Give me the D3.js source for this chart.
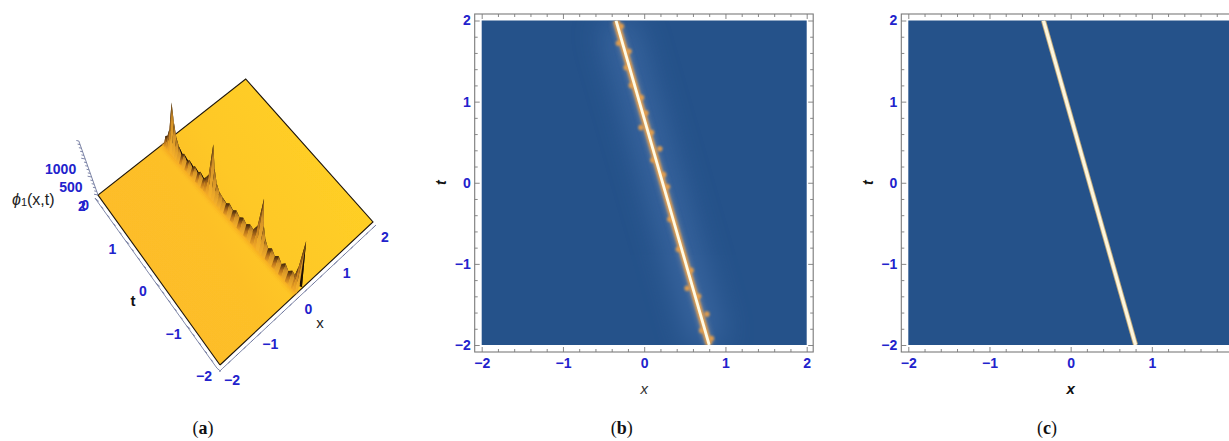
<!DOCTYPE html>
<html><head><meta charset="utf-8">
<script src="https://cdn.jsdelivr.net/npm/d3@7"></script>
<style>
html,body{margin:0;padding:0;background:#fff;overflow:hidden}
svg{display:block}
text{font-family:"Liberation Sans",sans-serif}
</style></head><body>
<svg id="chart" width="1229" height="441"></svg>
<script>
// ---- data ----
const majorTicks = [-2,-1,0,1,2];
const minorTicks = [-1.8,-1.6,-1.4,-1.2,-0.8,-0.6,-0.4,-0.2,0.2,0.4,0.6,0.8,1.2,1.4,1.6,1.8];
const zTicks = [0,500,1000];
const zMinor = [100,200,300,400,600,700,800,900,1100,1200,1300,1400,1500];
const captions = ["a","b","c"];

// panel (a): ridge height along t, with the ridge position at both ends
const ridgeEndsT = [2,-2];
const ridgeEndsX = [-0.2,0.05];
const ridgeT = [2.0,1.96,1.9,1.84,1.78,1.72,1.65,1.58,1.5,1.42,1.34,1.26,1.18,1.1,1.02,0.94,0.86,0.78,0.7,0.62,0.55,0.47,0.38,0.28,0.18,0.08,-0.02,-0.12,-0.22,-0.32,-0.42,-0.52,-0.62,-0.72,-0.8,-0.88,-0.96,-1.06,-1.16,-1.26,-1.36,-1.46,-1.56,-1.66,-1.76,-1.84,-1.9,-1.97,-2.0];
const ridgeZ = [0,230,300,560,1350,860,520,360,190,300,170,290,170,290,180,300,190,310,470,1400,800,470,320,270,210,310,220,320,230,330,250,350,310,520,1350,680,400,240,340,230,330,220,330,230,340,300,600,1370,150];

// panels (b) and (c): the soliton line, as x at t = 2 and t = -2
const lineT = [2,-2];
const lineXb = [-0.347,0.80];
const lineXc = [-0.335,0.80];
// panel (b): orange bumps along the line (t, offset in x)
const bumpT = [1.93,1.72,1.62,1.42,1.2,1.05,0.86,0.68,0.62,0.42,0.28,0.1,-0.05,-0.45,-0.82,-1.08,-1.3,-1.4,-1.62,-1.82,-1.92];
const bumpDx = [0.045,-0.05,0.05,-0.04,-0.04,0.04,0.04,-0.07,0.04,0.085,-0.04,0.04,0.045,-0.04,-0.04,0.04,-0.07,0.04,0.08,-0.04,0.05];

const svg = d3.select("#chart");
const defs = svg.append("defs");
function grad(id,x1,y1,x2,y2,stops){
  const g=defs.append("linearGradient").attr("id",id).attr("x1",x1).attr("y1",y1).attr("x2",x2).attr("y2",y2);
  stops.forEach(s=>g.append("stop").attr("offset",s[0]).attr("stop-color",s[1]));
}
grad("surf",0,1,1,0.35,[[0,"#fdb92a"],[0.5,"#fdc028"],[0.64,"#fec826"],[1,"#ffd024"]]);
grad("rise",0,1,0,0,[[0,"#f7ae28"],[0.5,"#b8721c"],[1,"#42260a"]]);
grad("fall",0,1,0,0,[[0,"#f8b42a"],[0.6,"#d69428"],[1,"#8a5a1a"]]);
function blur(id,s,wide){defs.append("filter").attr("id",id)
  .attr("x",wide?"-300%":"-30%").attr("y",wide?"-50%":"-30%").attr("width",wide?"700%":"160%").attr("height",wide?"200%":"160%")
  .append("feGaussianBlur").attr("stdDeviation",s);}
blur("b2",2,true);blur("b1",1.0,true);blur("b14",16,true);blur("b06",0.45,true);

const BLUE="#2222cc", GREY="#7a7a7a";
const fmt = d=>String(d).replace("-","\u2212");

// ================= panel (a) =================
const corner={ll:[220,365],lr:[373,222],ul:[98,195],ur:[245.7,79]};
const uS=d3.scaleLinear([-2,2],[0,1]), vS=d3.scaleLinear([-2,2],[0,1]);
function P(x,t){
  const u=uS(x),v=vS(t);
  const a=[corner.ll[0]+(corner.lr[0]-corner.ll[0])*u, corner.ll[1]+(corner.lr[1]-corner.ll[1])*u];
  const b=[corner.ul[0]+(corner.ur[0]-corner.ul[0])*u, corner.ul[1]+(corner.ur[1]-corner.ul[1])*u];
  return [a[0]+(b[0]-a[0])*v, a[1]+(b[1]-a[1])*v];
}
const zPx=d3.scaleLinear([0,1000],[0,36]);
const lean=d3.scaleLinear([97,173,300],[-0.36,0,0.18]);
function up(p,z){const h=zPx(z);return [p[0]+h*lean(p[0]),p[1]-h];}
const ridgeXAt=d3.scaleLinear(ridgeEndsT,ridgeEndsX);

const a=svg.append("g");
const surfPts=[P(-2,-2),P(2,-2),P(2,2),P(-2,2)];
const gs=a.append("g").attr("filter","url(#b06)");
gs.append("polygon").attr("points",surfPts.join(" ")).attr("fill","url(#surf)");
gs.append("polyline").attr("points",[P(-2,-2),P(-2,2),P(2,2),P(2,-2),P(-2,-2)].join(" ")).attr("fill","none").attr("stroke","#1c1408").attr("stroke-width",1.1);

const line=d3.line();
gs.append("path").attr("d",line(ridgeEndsT.map(t=>P(ridgeXAt(t)-0.05,t))))
  .attr("stroke","#e8861c").attr("stroke-width",5).attr("fill","none").attr("opacity",0.45).attr("filter","url(#b2)");

const seg=d3.range(ridgeT.length-1);
const back=t=>P(ridgeXAt(t)+0.12,t), mid=t=>P(ridgeXAt(t),t), front=t=>P(ridgeXAt(t)-0.06,t);
gs.selectAll(".bk").data(seg).join("polygon").attr("fill","#1c1006")
  .attr("points",i=>[up(mid(ridgeT[i]),ridgeZ[i]),up(mid(ridgeT[i+1]),ridgeZ[i+1]),back(ridgeT[i+1]),back(ridgeT[i])].join(" "));
gs.selectAll(".fr").data(seg).join("polygon")
  .attr("fill",i=>ridgeZ[i+1]>ridgeZ[i]?"url(#rise)":"url(#fall)")
  .attr("points",i=>[up(mid(ridgeT[i]),ridgeZ[i]),up(mid(ridgeT[i+1]),ridgeZ[i+1]),front(ridgeT[i+1]),front(ridgeT[i])].join(" "));

// a-panel axes
const offT=[-3,3.2], offX=[2.8,3.2];
function axis3(pts,off){
  return a.append("polyline").attr("points",pts.map(p=>[p[0]+off[0],p[1]+off[1]]).join(" ")).attr("fill","none").attr("stroke","#8088a8").attr("stroke-width",1);
}
axis3([P(-2,-2),P(-2,2)],offT);
axis3([P(-2,-2),P(2,-2)],offX);
function ticks3(vals,fn,dir,len){
  a.append("g").selectAll("line").data(vals).join("line")
   .each(function(v){const p=fn(v);d3.select(this).attr("x1",p[0]).attr("y1",p[1]).attr("x2",p[0]+dir[0]*len).attr("y2",p[1]+dir[1]*len);})
   .attr("stroke","#7078a0").attr("stroke-width",0.9);
}
const tBase=t=>{const p=P(-2,t);return [p[0]+offT[0],p[1]+offT[1]];};
const xBase=x=>{const p=P(x,-2);return [p[0]+offX[0],p[1]+offX[1]];};
ticks3(majorTicks,tBase,[0.76,0.65],5);
ticks3(minorTicks,tBase,[0.76,0.65],3);
ticks3(majorTicks,xBase,[-0.72,0.7],5);
ticks3(minorTicks,xBase,[-0.72,0.7],3);
// z axis
const zOrigin=P(-2,2);
const zBase=z=>up(zOrigin,z);
axis3([zBase(0),zBase(1500)],[0,0]);
ticks3(zTicks,zBase,[-1,-0.2],4);
ticks3(zMinor,zBase,[-1,-0.2],2.5);

const label3=(sel,txt,x,y,size,col,weight)=>sel.append("text").attr("x",x).attr("y",y).attr("text-anchor","middle").attr("dominant-baseline","central")
  .attr("font-size",size).attr("fill",col).attr("font-weight",weight||"normal").text(txt);
const aLab=svg.append("g");
majorTicks.forEach(t=>{const p=P(-2,t);label3(aLab,fmt(t),p[0]-16,p[1]+11,14,BLUE,"bold");});
majorTicks.forEach(x=>{const p=P(x,-2);label3(aLab,fmt(x),p[0]+12,p[1]+15,14,BLUE,"bold");});
zTicks.forEach(z=>{
  const p=zBase(z);
  aLab.append("text").attr("x",p[0]-9).attr("y",p[1]+10).attr("text-anchor","end").attr("dominant-baseline","central")
    .attr("font-size",14).attr("fill",BLUE).attr("font-weight","bold").text(z);
});
label3(aLab,"t",133,300,15,"#111","bold");
label3(aLab,"x",320,322,15,"#222");
const phi=aLab.append("text").attr("x",12).attr("y",199).attr("dominant-baseline","central").attr("font-size",16).attr("fill","#222");
phi.append("tspan").attr("font-style","italic").text("\u03D5");
phi.append("tspan").attr("font-size",11).attr("dy",3).text("1");
phi.append("tspan").attr("dy",-3).text("(x,t)");

// ================= panels (b),(c) =================
function panel(o){
  const x=d3.scaleLinear([-2,2],[o.x0,o.x1]);
  const y=d3.scaleLinear([-2,2],[345,20.5]);
  const g=svg.append("g");
  const id="clip"+o.key;
  defs.append("clipPath").attr("id",id).append("rect").attr("x",o.x0).attr("y",y(2)).attr("width",o.x1-o.x0).attr("height",y(-2)-y(2));
  g.append("rect").attr("x",o.x0).attr("y",y(2)).attr("width",o.x1-o.x0).attr("height",y(-2)-y(2)).attr("fill","#25528a");
  const body=g.append("g").attr("clip-path",`url(#${id})`);
  o.draw(body,x,y);
  const fx0=o.x0-7, fx1=o.x1+6.5, fy0=14, fy1=352;
  g.append("rect").attr("x",fx0).attr("y",fy0).attr("width",fx1-fx0).attr("height",fy1-fy0).attr("fill","none").attr("stroke",GREY).attr("stroke-width",1.1);
  function ax(gen,tr,vals,size,labels,pad){
    const s=g.append("g").attr("transform",tr).call(gen.tickValues(vals).tickSize(size).tickPadding(pad||0).tickFormat(labels?fmt:""));
    s.select(".domain").remove();
    s.selectAll("line").attr("stroke",GREY).attr("stroke-width",0.9);
    s.selectAll("text").attr("fill",BLUE).attr("font-size",14).attr("font-weight","bold").attr("font-family",'"Liberation Sans",sans-serif');
  }
  ax(d3.axisBottom(x),`translate(0,${fy1})`,majorTicks,-5,true,6);
  ax(d3.axisBottom(x),`translate(0,${fy1})`,minorTicks,-3,false);
  ax(d3.axisTop(x),`translate(0,${fy0})`,majorTicks,-5,false);
  ax(d3.axisTop(x),`translate(0,${fy0})`,minorTicks,-3,false);
  ax(d3.axisLeft(y),`translate(${fx0},0)`,majorTicks,-5,true,4);
  ax(d3.axisLeft(y),`translate(${fx0},0)`,minorTicks,-3,false);
  ax(d3.axisRight(y),`translate(${fx1},0)`,majorTicks,-5,false);
  ax(d3.axisRight(y),`translate(${fx1},0)`,minorTicks,-3,false);
  g.append("text").attr("x",x(0)).attr("y",388).attr("text-anchor","middle").attr("dominant-baseline","central")
    .attr("font-size",15).attr("font-style","italic").attr("font-weight",o.xWeight).attr("fill",o.xWeight==="bold"?"#111":"#333").text("x");
  g.append("text").attr("transform",`translate(${fx0-33.5},${y(0)}) rotate(-90)`).attr("text-anchor","middle").attr("dominant-baseline","central")
    .attr("font-size",14).attr("font-style","italic").attr("font-weight","bold").attr("fill","#111").text("t");
}
const pts=(xs)=>lineT.map((t,i)=>[xs[i],t]);
panel({key:"b",x0:481.7,x1:806.7,xWeight:"normal",draw(body,x,y){
  const l=d3.line().x(d=>x(d[0])).y(d=>y(d[1]));
  const ext=pts(lineXb);
  const xAt=d3.scaleLinear(lineT,lineXb);
  body.append("path").attr("d",l(ext)).attr("stroke","#5580bc").attr("stroke-width",34).attr("fill","none").attr("opacity",0.45).attr("filter","url(#b14)");
  body.append("path").attr("d",l(ext)).attr("stroke","#8a8f9a").attr("stroke-width",11).attr("fill","none").attr("opacity",0.45).attr("filter","url(#b2)");
  body.append("g").attr("filter","url(#b1)").selectAll("circle").data(bumpT).join("circle")
    .attr("cx",(t,i)=>x(xAt(t)+bumpDx[i])).attr("cy",t=>y(t)).attr("r",2.8).attr("fill","#d99a50");
  body.append("path").attr("d",l(ext)).attr("stroke","#e6a04e").attr("stroke-width",6.5).attr("fill","none").attr("filter","url(#b1)");
  body.append("path").attr("d",l(ext)).attr("stroke","#fffbe6").attr("stroke-width",2.8).attr("fill","none").attr("filter","url(#b06)");
}});
panel({key:"c",x0:908.3,x1:1233,xWeight:"bold",draw(body,x,y){
  const l=d3.line().x(d=>x(d[0])).y(d=>y(d[1]));
  body.append("path").attr("d",l(pts(lineXc))).attr("stroke","#c0a878").attr("stroke-width",5).attr("fill","none").attr("filter","url(#b06)");
  body.append("path").attr("d",l(pts(lineXc))).attr("stroke","#fdf6de").attr("stroke-width",3.2).attr("fill","none");
}});

const capX=[203,621.7,1047];
const cap=svg.append("g").selectAll("text").data(captions).join("text")
  .attr("x",(d,i)=>capX[i]).attr("y",428).attr("text-anchor","middle").attr("dominant-baseline","central")
  .attr("font-size",18).attr("fill","#111").style("font-family",'"Liberation Serif",serif');
cap.append("tspan").text("(");
cap.append("tspan").attr("font-weight","bold").text(d=>d);
cap.append("tspan").text(")");
</script>
</body></html>
